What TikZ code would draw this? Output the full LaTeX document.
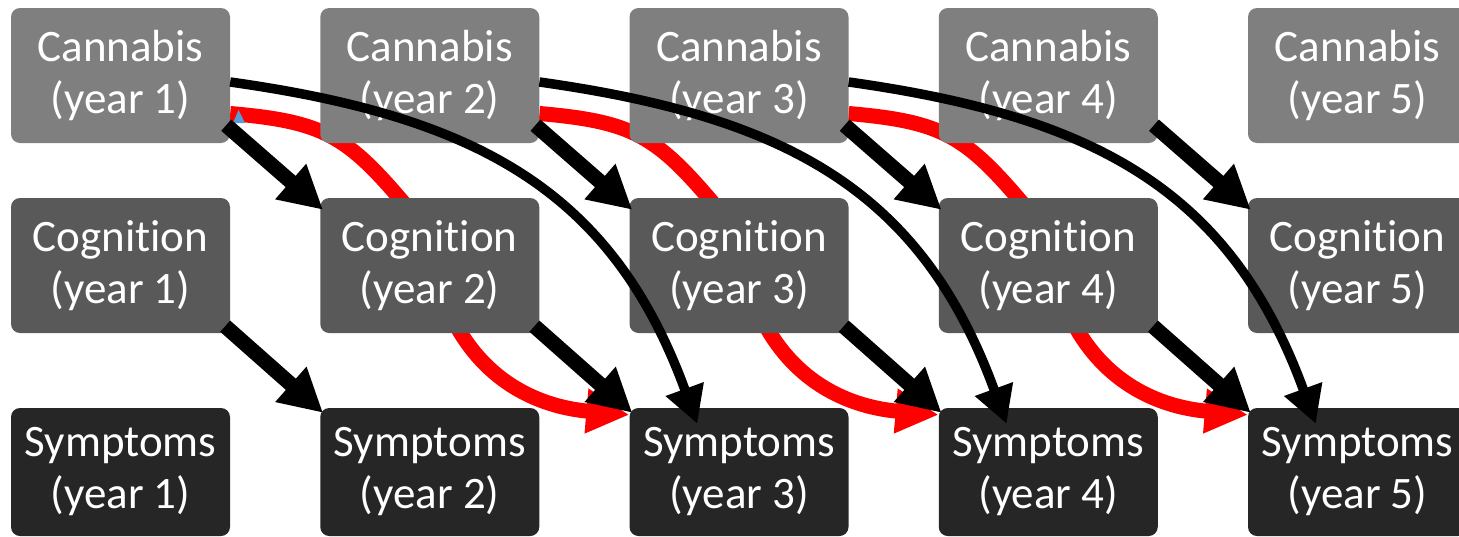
\documentclass[tikz,border=0pt]{standalone}
\usepackage{fontspec}
\setmainfont{Carlito}[Ligatures=NoCommon]
\usetikzlibrary{arrows.meta}
\pgfdeclarelayer{background}
\pgfsetlayers{background,main}
\definecolor{cannabisgray}{HTML}{7F7F7F}
\definecolor{cognitiongray}{HTML}{595959}
\definecolor{symptomsgray}{HTML}{262626}
\definecolor{handleblue}{HTML}{5B9BD5}

\begin{document}
\begin{tikzpicture}[x=1pt,y=1pt,
  varbox/.style={minimum width=219pt, rounded corners=9pt, text=white,
    align=center, inner sep=0pt, font=\fontsize{45}{52}\selectfont},
  cannabisbox/.style={varbox, fill=cannabisgray, minimum height=135pt},
  cognitionbox/.style={varbox, fill=cognitiongray, minimum height=135pt},
  symptomsbox/.style={varbox, fill=symptomsgray, minimum height=128pt},
  lagarrow/.style={line width=15pt, -{Triangle[length=43pt,width=44pt]}},
  longarrow/.style={line width=9.5pt, -{Triangle[length=37pt,width=38pt]}},
  redpath/.style={red, line width=15pt},
  redarrow/.style={redpath, -{Triangle[length=43pt,width=42pt]}},
]
\useasboundingbox (0,0) rectangle (1459,-536);

% three measures per year
\foreach \i/\x in {1/120.5, 2/429.75, 3/739, 4/1048.25, 5/1357.5} {
  \node[cannabisbox]  (ca\i) at (\x,-75.5) {Cannabis\\(year \i)};
  \node[cognitionbox] (cg\i) at (\x,-265.5) {Cognition\\(year \i)};
  \node[symptomsbox]  (sy\i) at (\x,-472) {Symptoms\\(year \i)};
}

% indirect path (red), running behind the boxes
\begin{pgfonlayer}{background}
\foreach \a/\b/\c in {1/2/3, 2/3/4, 3/4/5} {
  \draw[redpath] ([yshift=-38pt]ca\a.east)
    to[out=-5,in=130,looseness=1.2] ([xshift=-22pt,yshift=-10pt]cg\b.north);
  \draw[redarrow] ([xshift=28pt,yshift=5pt]cg\b.south)
    to[out=-60,in=175] ([yshift=-7pt]sy\c.north west);
}
\end{pgfonlayer}

% small handle at the start of the first red path
\fill[handleblue] (233,-123) -- (238.5,-110) -- (245,-123) -- cycle;

% one-year lagged effects
\foreach \a/\b in {1/2, 2/3, 3/4, 4/5} {
  \draw[lagarrow] ([xshift=-4pt,yshift=18pt]ca\a.south east)
    -- ([xshift=3pt,yshift=-12pt]cg\b.north west);
  \draw[lagarrow] ([xshift=-5pt,yshift=7pt]cg\a.south east)
    -- ([xshift=3pt,yshift=-5pt]sy\b.north west);
}

% two-year direct effects
\foreach \a/\c in {1/3, 2/4, 3/5} {
  \draw[longarrow] ([yshift=-6.5pt]ca\a.east)
    to[out=-8,in=110,looseness=1.1] ([xshift=68pt,yshift=-16pt]sy\c.north west);
}
\end{tikzpicture}
\end{document}
